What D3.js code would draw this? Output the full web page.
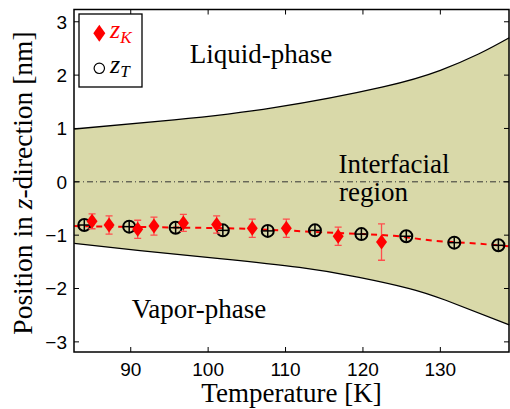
<!DOCTYPE html>
<html>
<head>
<meta charset="utf-8">
<script src="https://cdn.jsdelivr.net/npm/d3@7"></script>
<style>
  body { margin: 0; background: #fff; }
  svg { display: block; }
</style>
</head>
<body>
<div id="chart"></div>
<script>
// interface boundaries (upper = liquid side, lower = vapor side)
const upperT = [82.7, 95.6, 108.5, 122.6, 130.0, 135.0, 138.9];
const upperZ = [0.99, 1.16, 1.39, 1.78, 2.09, 2.40, 2.70];
const lowerT = [82.7, 91.2, 101.5, 111.8, 119.5, 126.0, 130.7, 138.9];
const lowerZ = [-1.155, -1.29, -1.44, -1.605, -1.79, -2.0, -2.22, -2.68];

// z_K with error bars
const kT = [85.0, 87.2, 90.9, 93.0, 96.8, 101.1, 105.7, 110.1, 116.8, 122.4];
const kZ = [-0.74, -0.81, -0.89, -0.83, -0.77, -0.80, -0.87, -0.87, -1.02, -1.13];
const kErr = [0.14, 0.17, 0.17, 0.17, 0.16, 0.16, 0.17, 0.17, 0.17, 0.34];

// z_T
const tT = [84.0, 89.8, 95.8, 101.9, 107.7, 113.8, 119.8, 125.6, 131.8, 137.5];
const tZ = [-0.81, -0.84, -0.86, -0.91, -0.92, -0.91, -0.98, -1.02, -1.14, -1.19];
const tErr = [0.1, 0.1, 0.1, 0.1, 0.1, 0.1, 0.1, 0.1, 0.1, 0.1];

// red dashed guide line
const fitT = [82.7, 90, 100, 104, 112, 115, 120, 124, 129.4, 134.6, 138.9];
const fitZ = [-0.83, -0.845, -0.865, -0.875, -0.925, -0.95, -0.98, -1.01, -1.11, -1.155, -1.21];

const xTicks = [90, 100, 110, 120, 130];
const yTicks = [-3, -2, -1, 0, 1, 2, 3];

const width = 510, height = 409;
const serif = "'Liberation Serif', 'Times New Roman', serif";
const sans = "'Liberation Sans', Arial, sans-serif";

const svg = d3.select("#chart").append("svg")
    .attr("width", width)
    .attr("height", height);

const x = d3.scaleLinear().domain([82.67, 138.87]).range([74, 509]);
const y = d3.scaleLinear().domain([-3.19, 3.23]).range([352, 9.5]);

const upper = upperT.map((t, i) => [t, upperZ[i]]);
const lower = lowerT.map((t, i) => [t, lowerZ[i]]);

const line = d3.line().x(d => x(d[0])).y(d => y(d[1]));
const smooth = d3.line().x(d => x(d[0])).y(d => y(d[1])).curve(d3.curveNatural);

// shaded interfacial band: upper edge left->right, then lower edge back
const lowerRev = smooth(lower.slice().reverse());
svg.append("path")
    .attr("d", smooth(upper) + "L" + lowerRev.slice(1) + "Z")
    .attr("fill", "#d9d9a9");

svg.append("path")
    .attr("d", smooth(upper))
    .attr("fill", "none").attr("stroke", "#000").attr("stroke-width", 1.3);
svg.append("path")
    .attr("d", smooth(lower))
    .attr("fill", "none").attr("stroke", "#000").attr("stroke-width", 1.3);

// zero line, dash-dot
svg.append("line")
    .attr("x1", x.range()[0]).attr("x2", x.range()[1])
    .attr("y1", y(0)).attr("y2", y(0))
    .attr("stroke", "#333").attr("stroke-width", 1)
    .attr("stroke-dasharray", "6,3,1,3");

// text labels
function label(t, z, s) {
  svg.append("text")
      .attr("x", x(t)).attr("y", y(z))
      .attr("font-family", serif).attr("font-size", 27)
      .text(s);
}
label(97.64, 2.23, "Liquid-phase");
label(116.84, 0.16, "Interfacial");
label(116.9, -0.36, "region");
label(90.13, -2.56, "Vapor-phase");

// dashed guide
svg.append("path")
    .attr("d", line(fitT.map((t, i) => [t, fitZ[i]])))
    .attr("fill", "none").attr("stroke", "#ff0000").attr("stroke-width", 2)
    .attr("stroke-dasharray", "6,5");

// z_T circles with tiny error bars
const gT = svg.append("g");
tT.forEach((t, i) => {
  const cx = x(t), cy = y(tZ[i]);
  gT.append("line")
      .attr("x1", cx).attr("x2", cx)
      .attr("y1", y(tZ[i] - tErr[i])).attr("y2", y(tZ[i] + tErr[i]))
      .attr("stroke", "#000").attr("stroke-width", 1.5);
  gT.append("line")
      .attr("x1", cx - 5.5).attr("x2", cx + 5.5)
      .attr("y1", cy).attr("y2", cy)
      .attr("stroke", "#000").attr("stroke-width", 1.5);
  gT.append("circle")
      .attr("cx", cx).attr("cy", cy).attr("r", 6)
      .attr("fill", "none").attr("stroke", "#000").attr("stroke-width", 2);
});

// z_K diamonds with error bars
const gK = svg.append("g");
kT.forEach((t, i) => {
  const cx = x(t);
  const y0 = y(kZ[i] - kErr[i]), y1 = y(kZ[i] + kErr[i]);
  gK.append("path")
      .attr("d", `M${cx},${y0}V${y1}M${cx - 3.5},${y0}H${cx + 3.5}M${cx - 3.5},${y1}H${cx + 3.5}`)
      .attr("stroke", "#ff4d4d").attr("stroke-width", 1.3).attr("fill", "none");
  gK.append("path")
      .attr("transform", `translate(${cx},${y(kZ[i])}) scale(5.5,7.5)`)
      .attr("d", "M0,-1L1,0L0,1L-1,0Z")
      .attr("fill", "#ff0000");
});

// axes box
svg.append("rect")
    .attr("x", 74).attr("y", 9.5)
    .attr("width", 435).attr("height", 342.5)
    .attr("fill", "none").attr("stroke", "#000").attr("stroke-width", 1.5);

// ticks (inward, on all four sides)
const axes = svg.append("g").attr("stroke", "#000").attr("stroke-width", 1);
xTicks.forEach(v => {
  axes.append("line").attr("x1", x(v)).attr("x2", x(v)).attr("y1", 352).attr("y2", 347);
  axes.append("line").attr("x1", x(v)).attr("x2", x(v)).attr("y1", 9.5).attr("y2", 14.5);
});
yTicks.forEach(v => {
  axes.append("line").attr("x1", 74).attr("x2", 79).attr("y1", y(v)).attr("y2", y(v));
  axes.append("line").attr("x1", 509).attr("x2", 504).attr("y1", y(v)).attr("y2", y(v));
});

svg.append("g").selectAll("text")
    .data(xTicks).join("text")
    .attr("x", d => x(d)).attr("y", 375.5)
    .attr("text-anchor", "middle")
    .attr("font-family", sans).attr("font-size", 19)
    .text(d => d);

svg.append("g").selectAll("text")
    .data(yTicks).join("text")
    .attr("x", 67).attr("y", d => y(d)).attr("dy", "0.36em")
    .attr("text-anchor", "end")
    .attr("font-family", sans).attr("font-size", 19)
    .text(d => d < 0 ? "\u2212" + Math.abs(d) : d);

// axis titles
svg.append("text")
    .attr("x", 291.5).attr("y", 402)
    .attr("text-anchor", "middle")
    .attr("font-family", serif).attr("font-size", 27)
    .text("Temperature [K]");

const yl = svg.append("text")
    .attr("transform", "translate(31.5,183) rotate(-90)")
    .attr("text-anchor", "middle")
    .attr("font-family", serif).attr("font-size", 27.5);
yl.append("tspan").text("Position in ");
yl.append("tspan").attr("font-style", "italic").text("z");
yl.append("tspan").text("-direction [nm]");

// legend
const lg = svg.append("g");
lg.append("rect")
    .attr("x", 79).attr("y", 14)
    .attr("width", 63).attr("height", 73)
    .attr("fill", "#fff").attr("stroke", "#000").attr("stroke-width", 1.3);
lg.append("path")
    .attr("transform", "translate(99.3,33.3) scale(6,8.5)")
    .attr("d", "M0,-1L1,0L0,1L-1,0Z")
    .attr("fill", "#ff0000");
lg.append("circle")
    .attr("cx", 99.3).attr("cy", 68.3).attr("r", 5.2)
    .attr("fill", "none").attr("stroke", "#000").attr("stroke-width", 1.2);

function legendText(yb, sub, color) {
  const t = lg.append("text")
      .attr("x", 110).attr("y", yb)
      .attr("font-family", serif).attr("font-style", "italic")
      .attr("fill", color);
  t.append("tspan").attr("font-size", 26).text("z");
  t.append("tspan").attr("font-size", 17).attr("dy", 4.5).text(sub);
}
legendText(38.3, "K", "#ff0000");
legendText(72.5, "T", "#000");
</script>
</body>
</html>
